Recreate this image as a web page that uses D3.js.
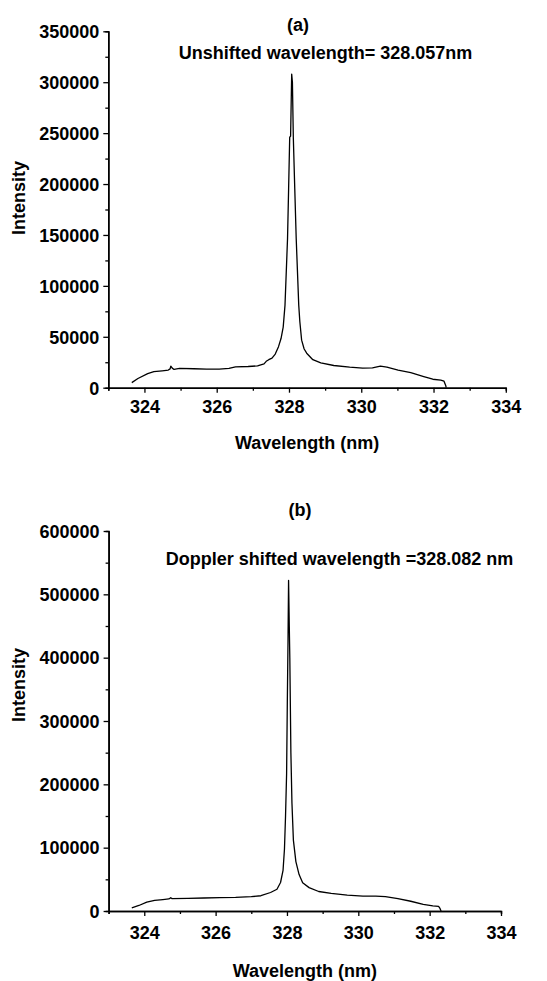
<!DOCTYPE html>
<html>
<head>
<meta charset="utf-8">
<script src="https://cdn.jsdelivr.net/npm/d3@7"></script>
<style>
  body { margin: 0; background: #fff; }
  svg { display: block; font-family: "Liberation Sans", Arial, sans-serif; }
</style>
</head>
<body>
<svg id="chart" width="547" height="981"></svg>
<script>
// panel (a) - unshifted line, [wavelength nm, intensity]
const spectrumA = [
  [323.65, 5000], [323.82, 9000], [324.09, 13800], [324.26, 15700], [324.49, 16600],
  [324.66, 17300], [324.71, 18500], [324.73, 21100], [324.77, 19200], [324.82, 17900],
  [324.97, 18900], [325.37, 18600], [325.72, 18200], [326.07, 18200], [326.34, 18900],
  [326.52, 20500], [326.87, 20800], [327.13, 21400], [327.31, 23400], [327.37, 25900],
  [327.44, 27500], [327.53, 29100], [327.62, 33000], [327.71, 40300], [327.78, 48300],
  [327.84, 59500], [327.89, 81100], [327.96, 146500], [327.99, 195500], [328.02, 246000],
  [328.045, 247000], [328.075, 308000], [328.095, 300000], [328.12, 246000], [328.16, 195500],
  [328.20, 146500], [328.27, 81100], [328.30, 65000], [328.35, 46700], [328.42, 38000],
  [328.49, 33900], [328.66, 27500], [328.88, 24300], [329.24, 21800], [329.68, 20200],
  [330.04, 19200], [330.31, 19500], [330.53, 21100], [330.71, 20200], [331.02, 17300],
  [331.37, 14700], [331.73, 10900], [331.98, 8300], [332.20, 7400], [332.29, 6400],
  [332.34, 1900], [332.35, 0]
];

// panel (b) - Doppler shifted line
const spectrumB = [
  [323.65, 5000], [323.85, 8700], [324.07, 13900], [324.29, 16900], [324.52, 18000],
  [324.69, 19000], [324.74, 21000], [324.78, 19500], [325.23, 20000], [325.67, 20500],
  [326.12, 21000], [326.56, 21500], [327.00, 22600], [327.27, 24100], [327.54, 29200],
  [327.72, 34400], [327.82, 45000], [327.89, 64000], [327.93, 98000], [327.96, 150000],
  [327.99, 217000], [328.01, 330000], [328.03, 430000], [328.045, 522000], [328.065, 450000],
  [328.08, 400000], [328.11, 250000], [328.14, 170000], [328.18, 112000], [328.25, 78000],
  [328.34, 57500], [328.44, 44600], [328.62, 36900], [328.89, 30800], [329.24, 27700],
  [329.69, 25100], [330.13, 23600], [330.49, 23600], [330.76, 22600], [331.11, 19500],
  [331.47, 15400], [331.82, 10300], [332.09, 8200], [332.25, 7200], [332.29, 4100],
  [332.32, 0]
];

const xTicks = [324, 326, 328, 330, 332, 334];
const xMinor = [323, 325, 327, 329, 331, 333];
const yTicksA = [0, 50000, 100000, 150000, 200000, 250000, 300000, 350000];
const yMinorA = [25000, 75000, 125000, 175000, 225000, 275000, 325000];
const yTicksB = [0, 100000, 200000, 300000, 400000, 500000, 600000];
const yMinorB = [50000, 150000, 250000, 350000, 450000, 550000];

const panels = [
  {
    data: spectrumA, label: "(a)", note: "Unshifted wavelength= 328.057nm",
    x0: 108.3, x1: 505.8, y0: 387.7, y1: 31.3, yMax: 350000,
    yTicks: yTicksA, yMinor: yMinorA,
    labelPos: [298, 25], notePos: [325.5, 53],
    tickY: 407, titleY: 443, yTitleY: 198
  },
  {
    data: spectrumB, label: "(b)", note: "Doppler shifted wavelength =328.082 nm",
    x0: 108.6, x1: 501, y0: 911, y1: 531, yMax: 600000,
    yTicks: yTicksB, yMinor: yMinorB,
    labelPos: [300, 510], notePos: [339.5, 559],
    tickY: 933, titleY: 971, yTitleY: 685
  }
];

const svg = d3.select("#chart");
const font = 18;

panels.forEach(p => {
  const x = d3.scaleLinear().domain([323, 334]).range([p.x0, p.x1]);
  const y = d3.scaleLinear().domain([0, p.yMax]).range([p.y0, p.y1]);
  const g = svg.append("g");

  // minor ticks first, then the major axis on top
  g.append("g")
    .attr("transform", `translate(0,${p.y0})`)
    .call(d3.axisBottom(x).tickValues(xMinor).tickSize(3).tickFormat(""));
  const xa = g.append("g")
    .attr("transform", `translate(0,${p.y0})`)
    .call(d3.axisBottom(x).tickValues(xTicks).tickSize(5).tickSizeOuter(0).tickFormat(d3.format("d")));
  xa.selectAll("text").attr("y", null).attr("dy", null)
    .attr("transform", `translate(0,${p.tickY - p.y0})`)
    .attr("dominant-baseline", "central");

  g.append("g")
    .attr("transform", `translate(${p.x0},0)`)
    .call(d3.axisLeft(y).tickValues(p.yMinor).tickSize(3).tickFormat(""));
  const ya = g.append("g")
    .attr("transform", `translate(${p.x0},0)`)
    .call(d3.axisLeft(y).tickValues(p.yTicks).tickSize(5).tickSizeOuter(0).tickFormat(d3.format("d")));
  ya.selectAll("text").attr("x", -9).attr("dy", "0.35em");

  g.selectAll(".domain").attr("stroke", "#000").attr("stroke-width", 1.5);
  g.selectAll(".tick line").attr("stroke", "#000").attr("stroke-width", 1.3);
  g.selectAll(".tick text")
    .attr("fill", "#000")
    .style("font-size", font + "px")
    .style("font-weight", "bold")
    .style("font-family", '"Liberation Sans", Arial, sans-serif');

  // spectrum
  g.append("path")
    .datum(p.data)
    .attr("fill", "none")
    .attr("stroke", "#000")
    .attr("stroke-width", 1.3)
    .attr("stroke-linejoin", "round")
    .attr("d", d3.line().x(d => x(d[0])).y(d => y(d[1])));

  // titles
  const txt = (tx, ty, s, rot) => g.append("text")
    .attr("x", tx).attr("y", ty)
    .attr("text-anchor", "middle")
    .attr("dominant-baseline", "central")
    .attr("transform", rot ? `rotate(-90,${tx},${ty})` : null)
    .style("font-size", font + "px")
    .style("font-weight", "bold")
    .text(s);

  txt(p.labelPos[0], p.labelPos[1], p.label);
  txt(p.notePos[0], p.notePos[1], p.note);
  txt((p.x0 + p.x1) / 2, p.titleY, "Wavelength (nm)");
  txt(19, p.yTitleY, "Intensity", true);
});
</script>
</body>
</html>
